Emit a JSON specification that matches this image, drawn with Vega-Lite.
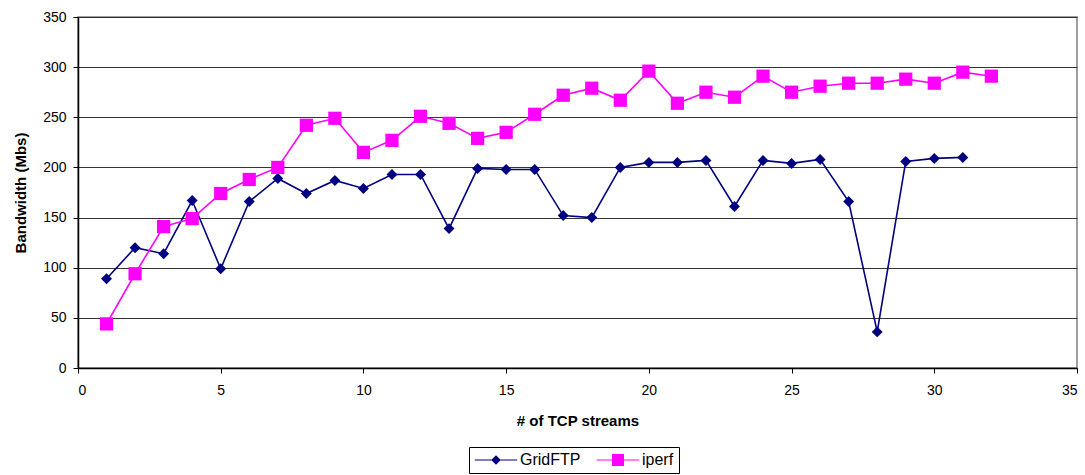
{
  "$schema": "https://vega.github.io/schema/vega-lite/v6.json",
  "autosize": {"type": "none"},
  "width": 999,
  "height": 351,
  "padding": {"left": 78, "top": 17, "right": 8, "bottom": 107},
  "background": "white",
  "config": {
    "font": "Liberation Sans",
    "view": {"stroke": "#808080", "strokeWidth": 1.5},
    "axis": {"labelFont": "Liberation Sans", "titleFont": "Liberation Sans", "labelColor": "black", "titleColor": "black", "domainColor": "black", "tickColor": "black", "labelFontSize": 14, "titleFontSize": 15, "titleFontWeight": "bold", "tickSize": 5}
  },
  "datasets": {
    "bw": [
      {"streams": 1, "series": "GridFTP", "bandwidth": 89},
      {"streams": 2, "series": "GridFTP", "bandwidth": 120},
      {"streams": 3, "series": "GridFTP", "bandwidth": 114},
      {"streams": 4, "series": "GridFTP", "bandwidth": 167},
      {"streams": 5, "series": "GridFTP", "bandwidth": 99},
      {"streams": 6, "series": "GridFTP", "bandwidth": 166},
      {"streams": 7, "series": "GridFTP", "bandwidth": 189},
      {"streams": 8, "series": "GridFTP", "bandwidth": 174},
      {"streams": 9, "series": "GridFTP", "bandwidth": 187},
      {"streams": 10, "series": "GridFTP", "bandwidth": 179},
      {"streams": 11, "series": "GridFTP", "bandwidth": 193},
      {"streams": 12, "series": "GridFTP", "bandwidth": 193},
      {"streams": 13, "series": "GridFTP", "bandwidth": 139},
      {"streams": 14, "series": "GridFTP", "bandwidth": 199},
      {"streams": 15, "series": "GridFTP", "bandwidth": 198},
      {"streams": 16, "series": "GridFTP", "bandwidth": 198},
      {"streams": 17, "series": "GridFTP", "bandwidth": 152},
      {"streams": 18, "series": "GridFTP", "bandwidth": 150},
      {"streams": 19, "series": "GridFTP", "bandwidth": 200},
      {"streams": 20, "series": "GridFTP", "bandwidth": 205},
      {"streams": 21, "series": "GridFTP", "bandwidth": 205},
      {"streams": 22, "series": "GridFTP", "bandwidth": 207},
      {"streams": 23, "series": "GridFTP", "bandwidth": 161},
      {"streams": 24, "series": "GridFTP", "bandwidth": 207},
      {"streams": 25, "series": "GridFTP", "bandwidth": 204},
      {"streams": 26, "series": "GridFTP", "bandwidth": 208},
      {"streams": 27, "series": "GridFTP", "bandwidth": 166},
      {"streams": 28, "series": "GridFTP", "bandwidth": 36},
      {"streams": 29, "series": "GridFTP", "bandwidth": 206},
      {"streams": 30, "series": "GridFTP", "bandwidth": 209},
      {"streams": 31, "series": "GridFTP", "bandwidth": 210},
      {"streams": 1, "series": "iperf", "bandwidth": 44},
      {"streams": 2, "series": "iperf", "bandwidth": 94},
      {"streams": 3, "series": "iperf", "bandwidth": 141},
      {"streams": 4, "series": "iperf", "bandwidth": 149},
      {"streams": 5, "series": "iperf", "bandwidth": 174},
      {"streams": 6, "series": "iperf", "bandwidth": 188},
      {"streams": 7, "series": "iperf", "bandwidth": 200},
      {"streams": 8, "series": "iperf", "bandwidth": 242},
      {"streams": 9, "series": "iperf", "bandwidth": 249},
      {"streams": 10, "series": "iperf", "bandwidth": 215},
      {"streams": 11, "series": "iperf", "bandwidth": 227},
      {"streams": 12, "series": "iperf", "bandwidth": 251},
      {"streams": 13, "series": "iperf", "bandwidth": 244},
      {"streams": 14, "series": "iperf", "bandwidth": 229},
      {"streams": 15, "series": "iperf", "bandwidth": 235},
      {"streams": 16, "series": "iperf", "bandwidth": 253},
      {"streams": 17, "series": "iperf", "bandwidth": 272},
      {"streams": 18, "series": "iperf", "bandwidth": 279},
      {"streams": 19, "series": "iperf", "bandwidth": 267},
      {"streams": 20, "series": "iperf", "bandwidth": 296},
      {"streams": 21, "series": "iperf", "bandwidth": 264},
      {"streams": 22, "series": "iperf", "bandwidth": 275},
      {"streams": 23, "series": "iperf", "bandwidth": 270},
      {"streams": 24, "series": "iperf", "bandwidth": 291},
      {"streams": 25, "series": "iperf", "bandwidth": 275},
      {"streams": 26, "series": "iperf", "bandwidth": 281},
      {"streams": 27, "series": "iperf", "bandwidth": 284},
      {"streams": 28, "series": "iperf", "bandwidth": 284},
      {"streams": 29, "series": "iperf", "bandwidth": 288},
      {"streams": 30, "series": "iperf", "bandwidth": 284},
      {"streams": 31, "series": "iperf", "bandwidth": 295},
      {"streams": 32, "series": "iperf", "bandwidth": 291}
    ]
  },
  "data": {"name": "bw"},
  "encoding": {
    "x": {"field": "streams", "type": "quantitative", "title": "# of TCP streams",
          "scale": {"domain": [0, 35], "nice": false, "zero": true},
          "axis": {"values": [0, 5, 10, 15, 20, 25, 30, 35], "grid": false, "labelPadding": 10, "titlePadding": 16, "domainWidth": 1.5}},
    "y": {"field": "bandwidth", "type": "quantitative", "title": "Bandwidth (Mbs)",
          "scale": {"domain": [0, 350], "nice": false},
          "axis": {"values": [0, 50, 100, 150, 200, 250, 300, 350], "grid": true, "gridColor": "#333333", "gridWidth": 1, "labelPadding": 7, "titlePadding": 14, "domainWidth": 1.5}}
  },
  "layer": [
    {
      "mark": {"type": "line", "strokeWidth": 1.6},
      "encoding": {
        "color": {"field": "series", "type": "nominal", "scale": {"domain": ["GridFTP", "iperf"], "range": ["#000080", "#FF00FF"]}, "legend": null}
      }
    },
    {
      "mark": {"type": "point", "filled": true, "opacity": 1},
      "encoding": {
        "color": {"field": "series", "type": "nominal", "scale": {"domain": ["GridFTP", "iperf"], "range": ["#000080", "#FF00FF"]}, "legend": null},
        "shape": {"field": "series", "type": "nominal", "scale": {"domain": ["GridFTP", "iperf"], "range": ["diamond", "square"]}, "legend": null},
        "size": {"field": "series", "type": "nominal", "scale": {"domain": ["GridFTP", "iperf"], "range": [120, 175]}, "legend": null}
      }
    },
    {
      "transform": [{"filter": "datum.streams < 0"}],
      "mark": {"type": "point", "filled": true, "opacity": 1},
      "encoding": {
        "color": {"field": "series", "type": "nominal", "title": null,
                  "scale": {"domain": ["GridFTP", "iperf"], "range": ["#000080", "#FF00FF"]},
                  "legend": {"orient": "none", "legendX": 391, "legendY": 430, "direction": "horizontal", "strokeColor": "black", "padding": 5, "symbolSize": 256, "symbolOffset": 14, "labelFontSize": 16, "labelFont": "Liberation Sans", "labelColor": "black", "labelOffset": 16, "columnPadding": 15, "symbolStrokeWidth": 0, "title": null}},
        "shape": {"field": "series", "type": "nominal", "title": null,
                  "scale": {"domain": ["GridFTP", "iperf"], "range": ["M-2.65,-0.06H2.65V0.06H-2.65Z M0,-0.6L0.6,0L0,0.6L-0.6,0Z", "M-2.65,-0.06H2.65V0.06H-2.65Z M-0.75,-0.75H0.75V0.75H-0.75Z"]},
                  "legend": {"orient": "none", "legendX": 391, "legendY": 430, "direction": "horizontal", "strokeColor": "black", "padding": 5, "symbolSize": 256, "symbolOffset": 14, "labelFontSize": 16, "labelFont": "Liberation Sans", "labelColor": "black", "labelOffset": 16, "columnPadding": 15, "symbolStrokeWidth": 0, "title": null}}
      }
    }
  ],
  "resolve": {"scale": {"color": "independent", "shape": "independent", "size": "independent"}}
}
